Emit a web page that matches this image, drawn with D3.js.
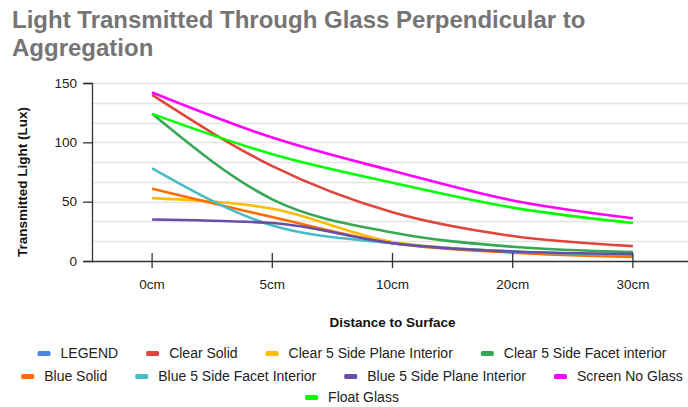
<!DOCTYPE html>
<html><head><meta charset="utf-8">
<script src="https://cdn.jsdelivr.net/npm/d3@7"></script>
<style>body{margin:0;background:#fff}svg{display:block}text{font-family:"Liberation Sans",Arial,sans-serif}</style>
</head><body>
<svg id="c" width="688" height="407"></svg>
<script>
const categories = ["0cm","5cm","10cm","20cm","30cm"];
const seriesNames = ["LEGEND","Clear Solid","Clear 5 Side Plane Interior","Clear 5 Side Facet interior","Blue Solid","Blue 5 Side Facet Interior","Blue 5 Side Plane Interior","Screen No Glass","Float Glass"];
const seriesColors = ["#4a86e8","#e0463b","#fbbc04","#34a853","#ff6d01","#46bdc6","#674ea7","#ff00ff","#00ff00"];
const legendValues = [];
const clearSolid = [140, 80, 41, 21, 12.5];
const clearPlane = [53, 44, 16, 8, 4.5];
const clearFacet = [124, 52, 24, 12, 7.5];
const blueSolid = [61, 37, 15, 7, 3.5];
const blueFacet = [78, 30, 15, 8, 5];
const bluePlane = [35, 32, 15, 8, 6];
const screenNoGlass = [142, 104, 76, 51, 36];
const floatGlass = [124, 90, 66, 45, 32];
const yTicks = [0, 50, 100, 150];
const legendRows = [[0,1,2,3],[4,5,6,7],[8]];

const seriesValues = [legendValues, clearSolid, clearPlane, clearFacet, blueSolid, blueFacet, bluePlane, screenNoGlass, floatGlass];

const svg = d3.select("#c");
const L = 92, R = 693, T = 83, B = 261;
const x = d3.scaleBand().domain(categories).range([L, R]);
const y = d3.scaleLinear().domain([0, 150]).range([B, T]);

// title
const title = svg.append("text").attr("font-size", 24).attr("font-weight", "bold").attr("fill", "#757575");
title.append("tspan").attr("x", 12).attr("y", 28).text("Light Transmitted Through Glass Perpendicular to");
title.append("tspan").attr("x", 12).attr("y", 56).text("Aggregation");

// gridlines
const grid = d3.range(0, 151, 50/3);
svg.append("g").selectAll("line").data(grid.slice(1)).join("line")
  .attr("x1", L).attr("x2", R).attr("y1", d => Math.round(y(d)) + 0.5).attr("y2", d => Math.round(y(d)) + 0.5)
  .attr("stroke", "#e3e3e3").attr("stroke-width", 1.3);

// lines
const line = d3.line().defined(d => d != null)
  .x((d, i) => x(categories[i]) + x.bandwidth() / 2).y(d => y(d)).curve(d3.curveMonotoneX);
svg.append("g").selectAll("path").data(seriesValues.map((v, i) => ({v, i})).filter(s => s.v.length)).join("path")
  .attr("d", s => line(s.v)).attr("fill", "none").attr("stroke", s => seriesColors[s.i])
  .attr("stroke-width", 2.6).attr("stroke-linecap", "butt");

// y axis
const yAxis = d3.axisLeft(y).tickValues(yTicks).tickSize(9).tickPadding(6);
const gy = svg.append("g").attr("transform", `translate(${L},0)`).call(yAxis);
gy.select(".domain").attr("stroke", "#333").attr("stroke-width", 1.3);
gy.selectAll(".tick line").attr("stroke", "#333").attr("stroke-width", 1.3);
gy.selectAll("text").attr("font-size", 13.5).attr("fill", "#222").style("font-family", '"Liberation Sans",Arial,sans-serif');

// x axis
const xAxis = d3.axisBottom(x).tickSize(7).tickPadding(11);
const gx = svg.append("g").attr("transform", `translate(0,${B})`).call(xAxis);
gx.select(".domain").attr("d", `M${L},0.5H${R}`).attr("stroke", "#333").attr("stroke-width", 1.3);
gx.selectAll(".tick line").attr("y1", -8).attr("y2", 7).attr("stroke", "#333").attr("stroke-width", 1.3);
gx.selectAll("text").attr("font-size", 13.5).attr("fill", "#222").style("font-family", '"Liberation Sans",Arial,sans-serif');

// axis titles
svg.append("text").attr("x", (L + R) / 2).attr("y", 327).attr("text-anchor", "middle")
  .attr("font-size", 13.5).attr("font-weight", "bold").attr("fill", "#111").text("Distance to Surface");
svg.append("text").attr("transform", "translate(27,182) rotate(-90)").attr("text-anchor", "middle")
  .attr("font-size", 13.5).attr("font-weight", "bold").attr("fill", "#111").text("Transmitted Light (Lux)");

// legend
const rowY = [358, 381, 402];
const sw = 13, gapT = 10, gapI = 28, cx = 352;
legendRows.forEach((row, r) => {
  const g = svg.append("g");
  let xx = 0;
  row.forEach(i => {
    const it = g.append("g").attr("transform", `translate(${xx},0)`);
    it.append("rect").attr("x", 0).attr("y", rowY[r] - 7).attr("width", sw).attr("height", 5).attr("rx", 1.5)
      .attr("fill", seriesColors[i]);
    const t = it.append("text").attr("x", sw + gapT).attr("y", rowY[r]).attr("font-size", 14)
      .attr("fill", "#222").text(seriesNames[i]);
    xx += sw + gapT + t.node().getComputedTextLength() + gapI;
  });
  const w = xx - gapI;
  g.attr("transform", `translate(${cx - w / 2},0)`);
});
</script>
</body></html>
